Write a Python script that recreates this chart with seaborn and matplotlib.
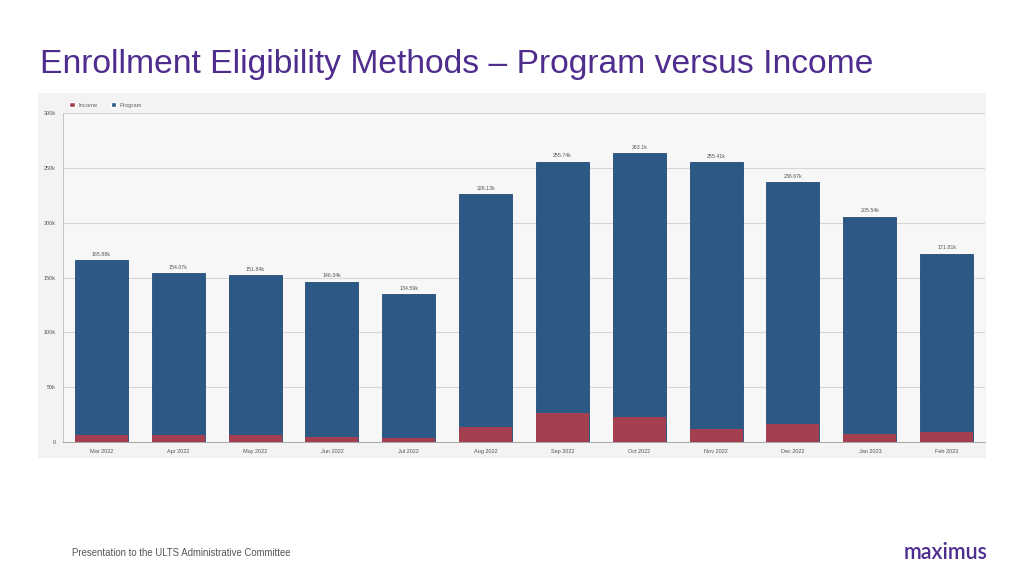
import matplotlib
matplotlib.use('Agg')
import matplotlib.pyplot as plt
import seaborn as sns
import pandas as pd
from matplotlib.patches import Patch

# Data
months = ['Mar 2022', 'Apr 2022', 'May 2022', 'Jun 2022', 'Jul 2022', 'Aug 2022',
          'Sep 2022', 'Oct 2022', 'Nov 2022', 'Dec 2022', 'Jan 2023', 'Feb 2023']
totals = [165.88, 154.07, 151.84, 146.34, 134.59, 226.13,
          255.74, 263.1, 255.41, 236.67, 205.54, 171.81]
income = [6.0, 6.0, 6.0, 4.5, 4.0, 14.0, 26.5, 23.0, 12.0, 16.5, 7.5, 9.0]
total_labels = ['165.88k', '154.07k', '151.84k', '146.34k', '134.59k', '226.13k',
                '255.74k', '263.1k', '255.41k', '236.67k', '205.54k', '171.81k']
yticks = [0, 50, 100, 150, 200, 250, 300]
ytick_labels = ['0', '50k', '100k', '150k', '200k', '250k', '300k']

df = pd.DataFrame({'month': months, 'total': totals, 'income': income})

sns.set_style('white')
plt.rcParams['font.family'] = ['Liberation Sans', 'DejaVu Sans']

blue = '#2C5886'
red = '#A43F50'
purple = '#4F2D8F'

fig = plt.figure(figsize=(10.24, 5.76), dpi=100)
fig.patch.set_facecolor('white')

# grey chart panel (screenshot background)
panel = fig.add_axes([0.0371, 0.2049, 0.9258, 0.634])
panel.set_facecolor('#f3f3f3')
panel.set_xticks([])
panel.set_yticks([])
for s in panel.spines.values():
    s.set_visible(False)
panel.set_zorder(0)

ax = fig.add_axes([0.0615, 0.2326, 0.9005, 0.5712])
ax.set_zorder(1)
ax.set_facecolor('#f7f7f7')

sns.barplot(data=df, x='month', y='total', color=blue, width=0.69, saturation=1,
            edgecolor='#244d7a', linewidth=0.6, ax=ax, zorder=3)
sns.barplot(data=df, x='month', y='income', color=red, width=0.69, saturation=1,
            edgecolor='none', linewidth=0, ax=ax, zorder=4)

for i, (t, lab) in enumerate(zip(totals, total_labels)):
    ax.text(i, t + 3, lab, ha='center', va='bottom', fontsize=3.8, color='#555555', zorder=5)

ax.set_xlim(-0.5, len(months) - 0.5)
ax.set_ylim(0, 300)
ax.set_yticks(yticks)
ax.set_yticklabels(ytick_labels)
ax.yaxis.grid(True, color='#d6d6d6', linewidth=0.8, zorder=0)
ax.set_axisbelow(True)
ax.tick_params(axis='y', labelsize=4, colors='#555555', length=3, width=0.5, pad=2)
ax.tick_params(axis='x', labelsize=4, colors='#555555', length=0, pad=5)
ax.set_xlabel('')
ax.set_ylabel('')
for s in ['top', 'right']:
    ax.spines[s].set_visible(False)
ax.spines['left'].set_color('#bbbbbb')
ax.spines['left'].set_linewidth(0.6)
ax.spines['bottom'].set_color('#999999')
ax.spines['bottom'].set_linewidth(0.6)

handles = [Patch(facecolor=red, label='Income'), Patch(facecolor=blue, label='Program')]
leg = fig.legend(handles=handles, loc='center left', bbox_to_anchor=(0.062, 0.818), ncol=2,
                 frameon=False, fontsize=4.2, handlelength=1.0, handleheight=1.0,
                 columnspacing=2.3, handletextpad=0.6, labelcolor='#666666')
leg.set_zorder(5)

fig.text(0.039, 0.888, 'Enrollment Eligibility Methods \u2013 Program versus Income',
         fontsize=24.2, color=purple, ha='left', va='center')
fig.text(0.0703, 0.040, 'Presentation to the ULTS Administrative Committee',
         fontsize=6.9, color='#555555', ha='left', va='center')
fig.text(0.964, 0.040, 'maximus', fontsize=15.5, fontweight='semibold', color=purple,
         ha='right', va='center', family=['Lato', 'DejaVu Sans'])

fig.savefig('out.png', dpi=100)
